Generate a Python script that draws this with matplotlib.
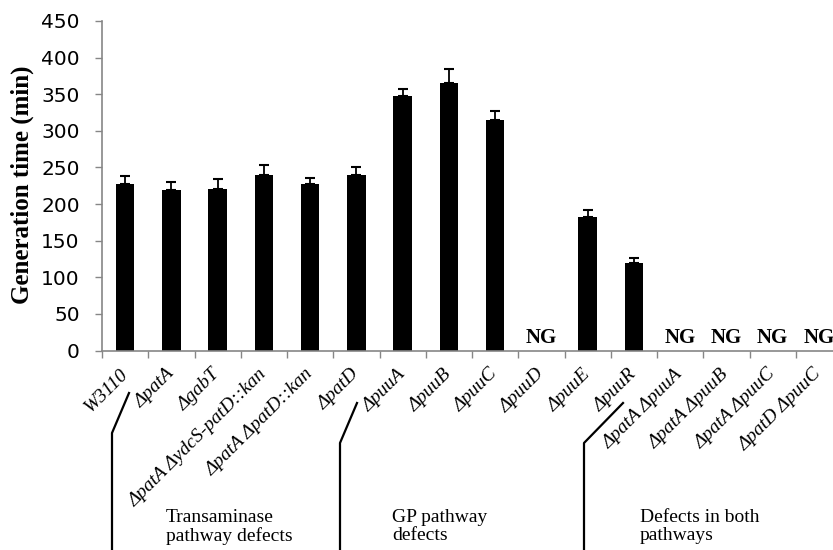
import numpy as np
import matplotlib.pyplot as plt
from matplotlib.lines import Line2D

# generation times (min); nan = no growth
strains = ["W3110", "ΔpatA", "ΔgabT", "ΔpatA ΔydcS-patD::kan", "ΔpatA ΔpatD::kan",
           "ΔpatD", "ΔpuuA", "ΔpuuB", "ΔpuuC", "ΔpuuD", "ΔpuuE", "ΔpuuR",
           "ΔpatA ΔpuuA", "ΔpatA ΔpuuB", "ΔpatA ΔpuuC", "ΔpatD ΔpuuC"]
gen_time = [228, 219, 220, 239, 227, 240, 347, 366, 315, np.nan, 182, 120,
            np.nan, np.nan, np.nan, np.nan]
gen_err = [10, 11, 14, 15, 8, 10, 10, 18, 12, 0, 10, 7, 0, 0, 0, 0]

groups = ["Transaminase\npathway defects", "GP pathway\ndefects", "Defects in both\npathways"]

W, H = 833, 550
fig = plt.figure(figsize=(W / 100, H / 100), dpi=100)
# axes runs a little past the right edge, as in the figure panel
ax = fig.add_axes([102 / W, (H - 350.5) / H, 740 / W, 329.5 / H])

x = np.arange(len(strains))
vals = np.nan_to_num(np.array(gen_time, dtype=float))
ax.bar(x, vals, width=0.4, color="black", zorder=2)
ok = ~np.isnan(np.array(gen_time, dtype=float))
ax.errorbar(x[ok], vals[ok], yerr=[np.zeros(ok.sum()), np.array(gen_err)[ok]],
            fmt="none", ecolor="black", elinewidth=1.3, capsize=3.6, capthick=1.5, zorder=3)

for i, v in enumerate(gen_time):
    if np.isnan(v):
        ax.text(i, 10, "NG", ha="center", va="baseline", family="Liberation Serif",
                fontweight="bold", fontsize=15)

ax.set_xlim(-0.5, len(strains) - 0.5)
ax.set_ylim(0, 450)
ax.set_yticks(np.arange(0, 451, 50))
ax.tick_params(axis="y", length=5, width=1, color="#868686", labelsize=14.5, pad=11)
for lab in ax.get_yticklabels():
    lab.set_family("DejaVu Sans")

ax.set_xticks(x)
ax.set_xticklabels(strains, rotation=45, ha="right", va="center", rotation_mode="anchor",
                   family="Liberation Serif", style="italic", fontsize=14)
ax.tick_params(axis="x", length=0, pad=15)
ax.set_xticks(np.arange(len(strains) + 1) - 0.5, minor=True)
ax.tick_params(axis="x", which="minor", length=5, width=1, color="#868686")

for s in ["top", "right"]:
    ax.spines[s].set_visible(False)
for s in ["left", "bottom"]:
    ax.spines[s].set_color("#868686")
    ax.spines[s].set_linewidth(1.2)

fig.text(22 / W, 1 - 185 / H, "Generation time (min)", rotation=90, ha="center", va="center",
         family="Liberation Serif", fontweight="bold", fontsize=18)

# group brackets under the tick labels (pixel coords)
brackets = [[(129, 393), (112, 433), (112, 552)],
            [(357, 403), (340, 443), (340, 552)],
            [(623, 403), (584, 443), (584, 552)]]
for pts in brackets:
    xs = [p[0] / W for p in pts]
    ys = [1 - p[1] / H for p in pts]
    fig.add_artist(Line2D(xs, ys, color="black", lw=1.6, transform=fig.transFigure))

for (gx, gy), txt in zip([(166, 509), (392, 509), (640, 509)], groups):
    fig.text(gx / W, 1 - gy / H, txt, ha="left", va="top", family="Liberation Serif",
             fontsize=14, linespacing=1.1)

fig.savefig("out.png", dpi=100)
